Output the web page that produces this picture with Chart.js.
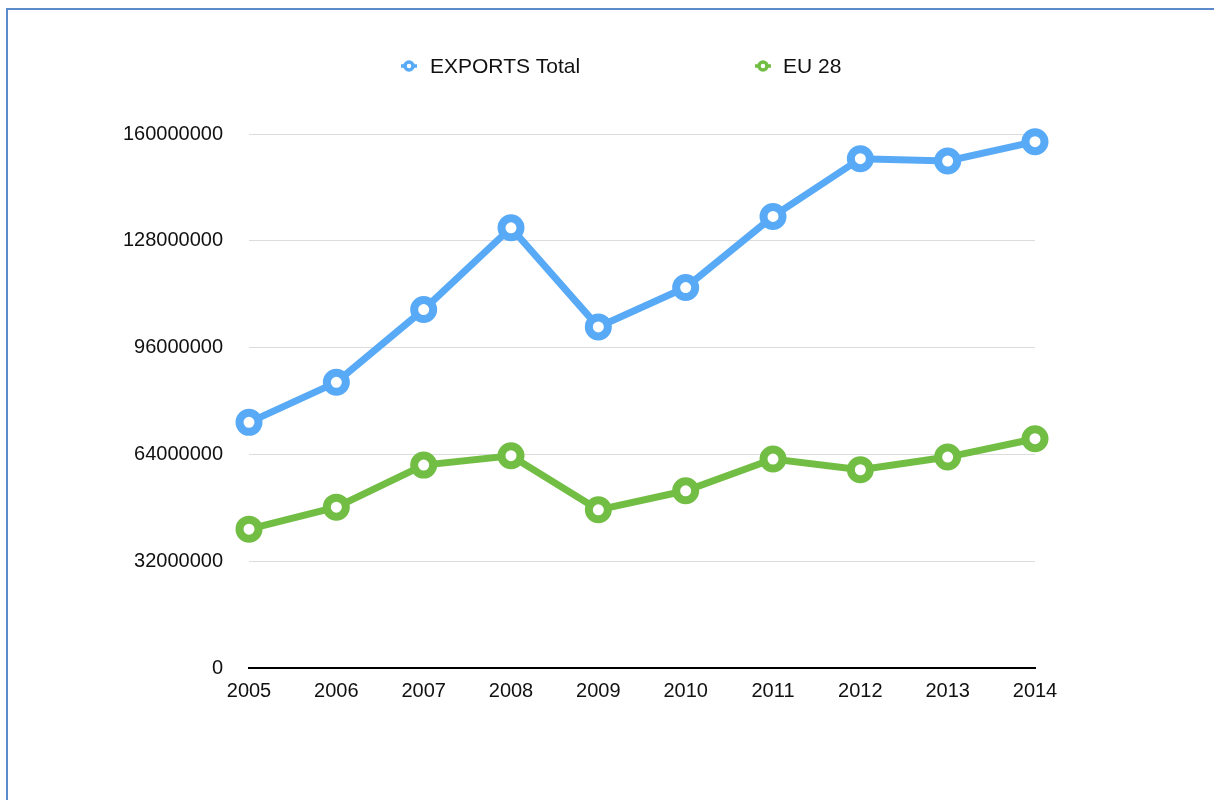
<!DOCTYPE html>
<html>
<head>
<meta charset="utf-8">
<script src="https://cdn.jsdelivr.net/npm/chart.js@4"></script>
<style>
  html, body { margin: 0; padding: 0; background: #fff; overflow: hidden; }
  #frame {
    position: absolute; left: 6px; top: 8px; width: 1400px; height: 1000px;
    border-left: 2px solid #5b8bc8; border-top: 2px solid #5b8bc8;
  }
  #chart { position: absolute; left: 0; top: 0; }
</style>
</head>
<body>
<div id="frame"></div>
<canvas id="chart" width="1214" height="800"></canvas>
<script>
const years = ['2005', '2006', '2007', '2008', '2009', '2010', '2011', '2012', '2013', '2014'];
const exportsTotal = [73600000, 85600000, 107400000, 131900000, 102200000, 114000000, 135300000, 152600000, 151900000, 157700000];
const eu28 = [41600000, 48200000, 60800000, 63600000, 47400000, 53100000, 62600000, 59400000, 63200000, 68700000];
const yTicks = [0, 32000000, 64000000, 96000000, 128000000, 160000000];

const blue = 'rgb(88, 170, 247)';
const green = 'rgb(114, 190, 68)';
const font = '"Liberation Sans", Arial, Helvetica, sans-serif';

function series(label, data, color) {
  return {
    label,
    data,
    borderColor: color,
    backgroundColor: '#fff',
    borderWidth: 7,
    pointRadius: 9.5,
    pointBorderWidth: 8,
    pointBackgroundColor: '#fff',
    pointBorderColor: color,
    tension: 0,
    clip: false
  };
}

// legend drawn by hand so the items can sit far apart
const legendSpots = [{ marker: 409, text: 430 }, { marker: 763, text: 783 }];
const wideLegend = {
  id: 'wideLegend',
  afterDraw(chart) {
    const ctx = chart.ctx;
    const y = 66;
    ctx.save();
    chart.data.datasets.forEach((ds, i) => {
      const spot = legendSpots[i];
      ctx.strokeStyle = ds.borderColor;
      ctx.lineWidth = 3.5;
      ctx.beginPath();
      ctx.moveTo(spot.marker - 8, y);
      ctx.lineTo(spot.marker + 8, y);
      ctx.stroke();
      ctx.beginPath();
      ctx.arc(spot.marker, y, 4, 0, Math.PI * 2);
      ctx.fillStyle = '#fff';
      ctx.fill();
      ctx.stroke();
      ctx.fillStyle = '#111';
      ctx.font = '21px ' + font;
      ctx.textBaseline = 'middle';
      ctx.textAlign = 'left';
      ctx.fillText(ds.label, spot.text, y + 1);
    });
    ctx.restore();
  }
};

new Chart(document.getElementById('chart'), {
  type: 'line',
  data: {
    labels: years,
    datasets: [
      series('EXPORTS Total', exportsTotal, blue),
      series('EU 28', eu28, green)
    ]
  },
  options: {
    responsive: false,
    animation: false,
    layout: { padding: { left: 119, right: 179, top: 134, bottom: 92 } },
    plugins: { legend: { display: false }, tooltip: { enabled: false } },
    scales: {
      x: {
        offset: false,
        grid: { display: false, drawTicks: false },
        border: { display: true, color: '#000', width: 2 },
        ticks: { color: '#111', font: { family: font, size: 20 }, padding: 11, maxRotation: 0 },
        afterFit(scale) { scale.height = 40; }
      },
      y: {
        min: 0,
        max: 160000000,
        afterBuildTicks(scale) { scale.ticks = yTicks.map(v => ({ value: v })); },
        grid: { color: '#dcdcdc', lineWidth: 1, drawTicks: false },
        border: { display: false },
        ticks: {
          color: '#111',
          font: { family: font, size: 20 },
          padding: 26,
          callback: v => String(v)
        },
        afterFit(scale) { scale.width = 130; }
      }
    }
  },
  plugins: [wideLegend]
});
</script>
</body>
</html>
